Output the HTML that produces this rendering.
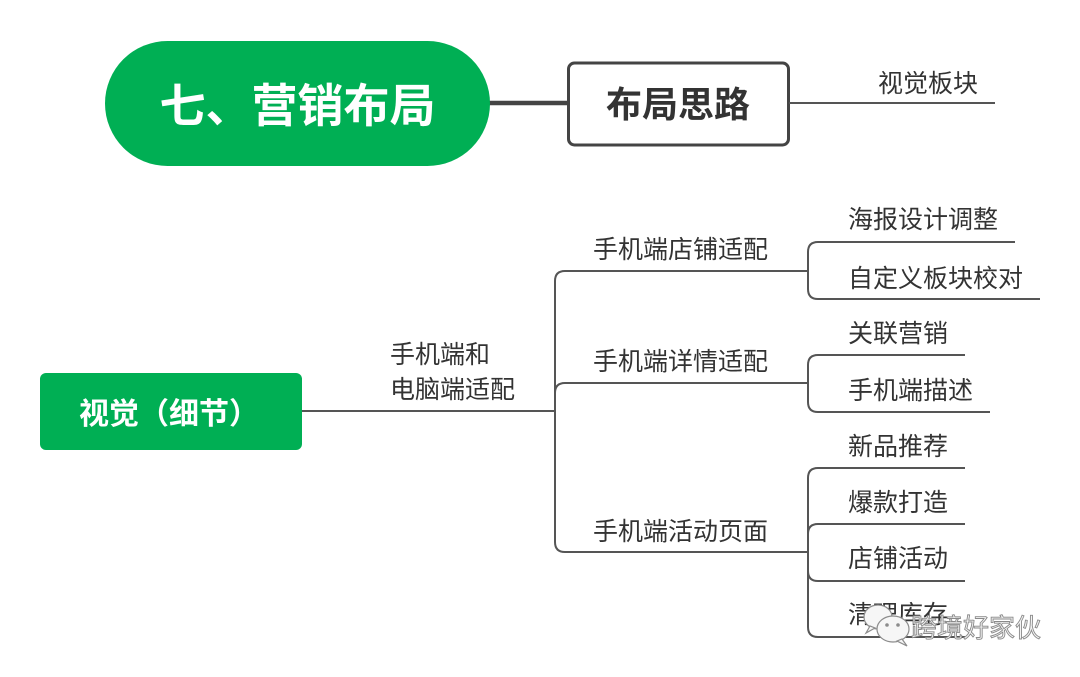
<!DOCTYPE html>
<html>
<head>
<meta charset="utf-8">
<style>
html,body{margin:0;padding:0;background:#fff;}
body{width:1080px;height:677px;overflow:hidden;}
svg{display:block;}
text{font-family:"Liberation Sans","Noto Sans CJK SC",sans-serif;}
</style>
</head>
<body>
<svg width="1080" height="677" viewBox="0 0 1080 677" xmlns="http://www.w3.org/2000/svg">
  <rect x="0" y="0" width="1080" height="677" fill="#ffffff"/>

  <!-- Top section -->
  <line x1="488" y1="103" x2="570" y2="103" stroke="#444" stroke-width="4.5"/>
  <rect x="105" y="41" width="385" height="125" rx="62.5" ry="62.5" fill="#00AF54"/>
  <text x="297.5" y="122" font-size="46" font-weight="700" fill="#ffffff" text-anchor="middle">七、营销布局</text>

  <rect x="568.5" y="63" width="220" height="82" rx="6" ry="6" fill="#fff" stroke="#444" stroke-width="3"/>
  <text x="678" y="117" font-size="36" font-weight="700" fill="#333" text-anchor="middle">布局思路</text>

  <line x1="789" y1="103" x2="995" y2="103" stroke="#555" stroke-width="2"/>
  <text x="878" y="92" font-size="25" fill="#333">视觉板块</text>

  <!-- Left node -->
  <rect x="40" y="373" width="262" height="77" rx="6" ry="6" fill="#00AF54"/>
  <text x="79" y="424" font-size="30" font-weight="700" fill="#ffffff">视觉（细节）</text>

  <g fill="none" stroke="#555" stroke-width="2">
    <line x1="302" y1="411" x2="556" y2="411"/>
    <path d="M555 411 V281 Q555 271 565 271 H808"/>
    <path d="M555 411 V393 Q555 383 565 383 H808"/>
    <path d="M555 411 V542 Q555 552 565 552 H808"/>

    <path d="M808 271 V252 Q808 242 818 242 H1015"/>
    <path d="M808 271 V289 Q808 299 818 299 H1040"/>

    <path d="M808 383 V365 Q808 355 818 355 H965"/>
    <path d="M808 383 V402 Q808 412 818 412 H990"/>

    <path d="M808 552 V478 Q808 468 818 468 H965"/>
    <path d="M808 552 V534 Q808 524 818 524 H965"/>
    <path d="M808 552 V571 Q808 581 818 581 H965"/>
    <path d="M808 552 V627 Q808 637 818 637 H965"/>
  </g>

  <g font-size="25" fill="#333">
    <text x="390" y="363">手机端和</text>
    <text x="390" y="398">电脑端适配</text>

    <text x="593" y="258">手机端店铺适配</text>
    <text x="593" y="370">手机端详情适配</text>
    <text x="593" y="540">手机端活动页面</text>

    <text x="848" y="228">海报设计调整</text>
    <text x="848" y="287">自定义板块校对</text>
    <text x="848" y="342">关联营销</text>
    <text x="848" y="399">手机端描述</text>
    <text x="848" y="455">新品推荐</text>
    <text x="848" y="511">爆款打造</text>
    <text x="848" y="567">店铺活动</text>
    <text x="848" y="623">清理库存</text>
  </g>

  <!-- Watermark -->
  <g fill="#f6f6f6" stroke="#8c8c8c" stroke-width="1.2">
    <ellipse cx="878" cy="617" rx="14" ry="12"/>
    <path d="M870 626 L866 633 L875 628 Z"/>
    <ellipse cx="893" cy="629" rx="16" ry="13"/>
    <path d="M902 639 L907 646 L897 641 Z"/>
  </g>
  <circle cx="887" cy="625" r="1.8" fill="#8c8c8c"/>
  <circle cx="898" cy="625" r="1.8" fill="#8c8c8c"/>
  <text x="911" y="637" font-size="26" fill="#f4f4f4" stroke="#8a8a8a" stroke-width="0.9">跨境好家伙</text>
</svg>
</body>
</html>
